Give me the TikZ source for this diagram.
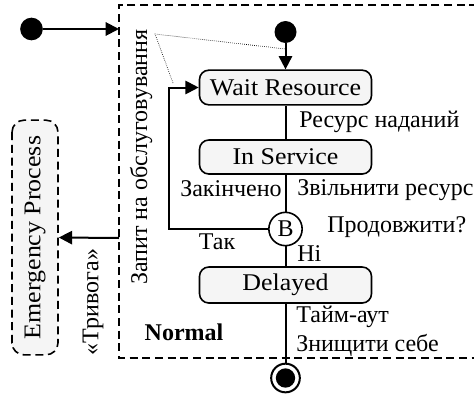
\documentclass[tikz,border=0pt]{standalone}
\usepackage{fontspec}
\setmainfont{Liberation Serif}
\newfontfamily\statefont[FakeStretch=1.08]{Liberation Serif}
\usetikzlibrary{arrows.meta}

\definecolor{stategray}{RGB}{245,245,245}
\tikzset{
  state/.style={draw, line width=1.2pt, rounded corners=7pt, fill=stategray,
    minimum width=129pt, inner sep=0pt, font=\fontsize{18}{22}\statefont},
  trans/.style={line width=1.5pt},
  tip/.style={-{Triangle[length=10pt,width=10pt]}},
  lbl/.style={inner sep=0pt, font=\fontsize{18}{22}\selectfont},
  frame/.style={line width=1.2pt, dash pattern=on 6pt off 3.5pt},
  dot/.style={circle, fill=black, inner sep=0pt, minimum size=17pt},
}

\begin{document}
\begin{tikzpicture}[x=0.75pt,y=-0.75pt,font=\fontsize{18}{22}\selectfont]
  \useasboundingbox (0,0) rectangle (474,396);

  % composite state Normal
  \draw[frame] (490,5) -- (119,5) -- (119,358) -- (490,358);
  \node[lbl, font=\fontsize{18}{22}\selectfont\bfseries] (normal) at (184,332) {Normal};

  % outer initial state
  \node[dot] (init) at (31.5,29) {};
  \coordinate (normalin) at (119,29);
  \draw[trans, tip] (init) -- (normalin);

  % states
  \node[state, minimum height=26pt] (wait) at (285.5,87.5) {Wait Resource};
  \node[state, minimum height=25.5pt] (serv) at (285.5,157) {In Service};
  \node[state, minimum height=27pt] (del) at (285.5,285) {Delayed};
  \node[circle, draw, line width=1.2pt, minimum size=25pt, inner sep=0pt] (b) at (285.5,229) {B};

  % inner initial and final
  \node[dot, minimum size=16.5pt] (start) at (285.5,32) {};
  \node[circle, draw, line width=1.5pt, minimum size=21.5pt] (stop) at (285.5,378) {};
  \node[dot, minimum size=14.5pt] at (stop) {};

  \draw[trans, tip] (start) -- (wait);
  \draw[trans] (wait) -- (serv);
  \draw[trans] (serv) -- (b);
  \draw[trans] (b) -- (del);
  \draw[trans] (del) -- (stop);
  \coordinate (loop) at (169,229);
  \draw[trans, tip] (b) -- (loop) |- (wait);

  % transition labels
  \node[lbl, anchor=west] (granted) at (299,122) {Ресурс наданий};
  \node[lbl, anchor=west] (done) at (180,189) {Закінчено};
  \node[lbl, anchor=west] (release) at (297,190) {Звільнити ресурс};
  \node[lbl, anchor=west] (cont) at (327,227) {Продовжити?};
  \node[lbl] (yes) at (217,242) {Так};
  \node[lbl, anchor=west] (no) at (297,254) {Ні};
  \node[lbl, anchor=west, align=left] (tout) at (296,331) {Тайм-аут\\Знищити себе};

  % request note
  \node[lbl, rotate=90] (req) at (141,157) {Запит на обслуговування};
  \coordinate (reqtop) at (155,34);
  \coordinate (reqa) at (173,83);
  \coordinate (reqb) at (285.5,49);
  \draw[densely dotted, line width=0.5pt] (reqa) -- (reqtop) -- (reqb);

  % emergency
  \node[draw, frame, rotate=90, rounded corners=9pt, fill=stategray,
    minimum width=176pt, minimum height=34.5pt, inner sep=0pt,
    font=\fontsize{18}{22}\statefont] (emerg) at (35,237.5) {Emergency Process};
  \coordinate (alarm) at (119,238);
  \draw[trans, tip] (alarm) -- (emerg.south);
  \node[lbl, rotate=90] (alarmtxt) at (93,302) {«Тривога»};
\end{tikzpicture}
\end{document}
